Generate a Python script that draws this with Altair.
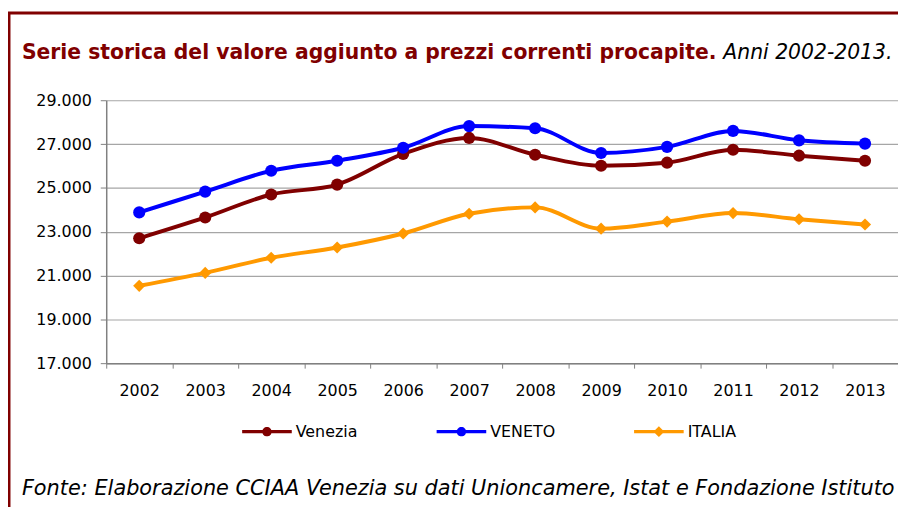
import altair as alt
import pandas as pd

years = [str(y) for y in range(2002, 2014)]
venezia = [22700, 23650, 24700, 25150, 26550, 27280, 26510, 26010, 26150, 26740, 26470, 26240]
veneto = [23880, 24830, 25780, 26240, 26830, 27820, 27720, 26590, 26870, 27600, 27170, 27020]
italia = [20530, 21120, 21810, 22280, 22920, 23820, 24110, 23140, 23460, 23850, 23570, 23330]
series_names = ["Venezia", "VENETO", "ITALIA"]
series_colors = ["#800000", "#0000FF", "#FF9900"]
markers = ["circle", "circle", "diamond"]
y_ticks = [17000, 19000, 21000, 23000, 25000, 27000, 29000]

title_main = "Serie storica del valore aggiunto a prezzi correnti procapite."
title_years = "Anni 2002-2013."
footer = "Fonte: Elaborazione CCIAA Venezia su dati Unioncamere, Istat e Fondazione Istituto Guglielmo Tagliacarne"

rows = []
for name, vals, mk in zip(series_names, [venezia, veneto, italia], markers):
    for yr, v in zip(years, vals):
        rows.append({"anno": yr, "valore": v, "serie": name, "marker": mk})
df = pd.DataFrame(rows)

FONT = "DejaVu Sans"

x_enc = alt.X(
    "anno:N", sort=years, bandPosition=0.5,
    scale=alt.Scale(type="band", paddingInner=0, paddingOuter=0),
    axis=alt.Axis(title=None, labelAngle=0, tickBand="extent", tickSize=5,
                  labelFontSize=16, labelFont=FONT, labelColor="black",
                  labelPadding=15, domainColor="#808080", tickColor="#808080",
                  domainWidth=1.5, grid=False),
)
y_enc = alt.Y(
    "valore:Q",
    scale=alt.Scale(domain=[17000, 29000], nice=False, zero=False),
    axis=alt.Axis(title=None, values=y_ticks, tickSize=6,
                  labelExpr="replace(format(datum.value, ','), ',', '.')",
                  labelFontSize=16, labelFont=FONT, labelColor="black",
                  labelPadding=9, domainColor="#808080", tickColor="#808080",
                  domainWidth=1.5, gridColor="#a6a6a6", gridWidth=1.2),
)
color_scale = alt.Scale(domain=series_names, range=series_colors)

circle_path = ("M-1,-0.07 L1,-0.07 L1,0.07 L-1,0.07 Z "
               "M-0.19,0 A0.19,0.19 0 1,1 0.19,0 A0.19,0.19 0 1,1 -0.19,0 Z")
diamond_path = ("M-1,-0.07 L1,-0.07 L1,0.07 L-1,0.07 Z "
                "M0,-0.22 L0.22,0 L0,0.22 L-0.22,0 Z")
legend_shapes = [circle_path, circle_path, diamond_path]

base = alt.Chart(df)

leg = dict(title=None, orient="none", legendX=137, legendY=309, direction="horizontal",
           labelFontSize=16, labelFont=FONT, labelColor="black", labelOffset=4,
           columnPadding=79, padding=0, symbolSize=2500, symbolStrokeWidth=0)
legend_layer = base.transform_filter("false").mark_point(filled=True, opacity=1, size=2500).encode(
    x=x_enc, y=y_enc,
    color=alt.Color("serie:N", scale=color_scale, legend=alt.Legend(**leg)),
    shape=alt.Shape("serie:N", scale=alt.Scale(domain=series_names, range=legend_shapes),
                    legend=alt.Legend(**leg)),
)
lines = base.mark_line(strokeWidth=4, interpolate="monotone").encode(
    x=x_enc, y=y_enc,
    color=alt.Color("serie:N", scale=color_scale, legend=None),
    detail="serie:N",
)
points = base.mark_point(filled=True, opacity=1, size=150).encode(
    x=x_enc, y=y_enc,
    color=alt.Color("serie:N", scale=color_scale, legend=None),
    shape=alt.Shape("marker:N", scale=None),
)

one = alt.Data(values=[{}])
t1 = alt.Chart(one).mark_text(text=title_main, align="left", baseline="alphabetic", font=FONT,
                              fontSize=20.5, fontWeight="bold", color="#800000").encode(
    x=alt.value(-85), y=alt.value(-42))
t2 = alt.Chart(one).mark_text(text=title_years, align="left", baseline="alphabetic", font=FONT,
                              fontSize=20.5, fontStyle="italic", color="black").encode(
    x=alt.value(622), y=alt.value(-42))
t3 = alt.Chart(one).mark_text(text=footer, align="left", baseline="alphabetic", font=FONT,
                              fontSize=21, fontStyle="italic", color="black").encode(
    x=alt.value(-85), y=alt.value(398))
border_v = alt.Chart(one).mark_rule(color="#800000", strokeWidth=3).encode(
    x=alt.value(-98), y=alt.value(-88), y2=alt.value(430))
border_h = alt.Chart(one).mark_rule(color="#800000", strokeWidth=3).encode(
    x=alt.value(-99), x2=alt.value(820), y=alt.value(-88))

chart = alt.layer(legend_layer, border_v, border_h, t1, t2, t3, lines, points).resolve_legend(
    color="independent", shape="independent"
).properties(
    width=798, height=265,
    autosize=alt.AutoSizeParams(type="none"),
    padding={"left": 99, "top": 91, "right": 0, "bottom": 143},
).configure_view(stroke=None)

chart.save("out.html", embed_options={"renderer": "svg", "actions": False})
